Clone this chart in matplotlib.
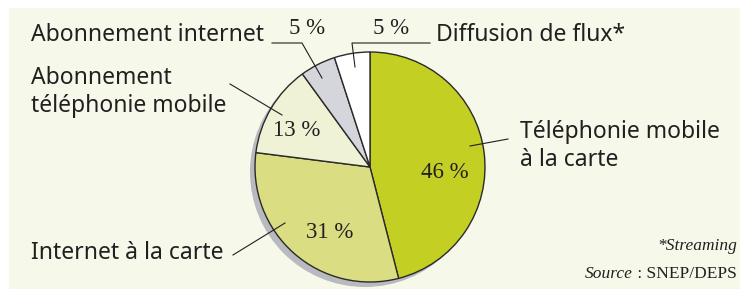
import matplotlib
matplotlib.use("Agg")
import matplotlib.pyplot as plt
from matplotlib.patches import Rectangle, Circle

# data
categories = ["Téléphonie mobile\nà la carte", "Internet à la carte",
              "Abonnement\ntéléphonie mobile", "Abonnement internet",
              "Diffusion de flux*"]
values = [46, 31, 13, 5, 5]
pct_labels = ["46 %", "31 %", "13 %", "5 %", "5 %"]
colors = ["#c4cf23", "#dadd82", "#f0f2d6", "#d5d6db", "#ffffff"]

W, H = 740, 289
fig = plt.figure(figsize=(W / 100, H / 100), dpi=100)
fig.patch.set_facecolor("white")
ax = fig.add_axes([0, 0, 1, 1])

def Y(p):
    return H - p

# panel background
ax.add_patch(Rectangle((9, 0), W - 9, H - 8, facecolor="#f6f8ea", edgecolor="none", zorder=0))

cx, cy, r = 370, Y(167), 115
# shadow
ax.add_patch(Circle((cx - 5, cy - 5), r, facecolor="#b9babf", edgecolor="none", zorder=1))

wedges, _ = ax.pie(values, colors=colors, startangle=90, counterclock=False,
                   center=(cx, cy), radius=r, frame=True,
                   wedgeprops=dict(edgecolor="#2a2a2a", linewidth=1.0, zorder=2))
for w in wedges:
    w.set_zorder(2)

ax.set_xlim(0, W)
ax.set_ylim(0, H)
ax.set_aspect("equal")
ax.axis("off")

lab_font = dict(family=["Noto Sans", "DejaVu Sans"], fontsize=16.5, color="#231f20")
pct_font = dict(family=["Liberation Serif", "DejaVu Serif"], fontsize=16.5, color="#231f20")
lc = dict(color="#231f20", lw=0.8, zorder=3)

# percentage labels inside
ax.text(445, Y(172), pct_labels[0], ha="center", va="center", **pct_font, zorder=4)
ax.text(330, Y(233), pct_labels[1], ha="center", va="center", **pct_font, zorder=4)
ax.text(297, Y(130), pct_labels[2], ha="center", va="center", **pct_font, zorder=4)
ax.text(307, Y(28), pct_labels[3], ha="center", va="center", **pct_font, zorder=4)
ax.text(391, Y(28), pct_labels[4], ha="center", va="center", **pct_font, zorder=4)

# category labels
ax.text(520, Y(146), categories[0], ha="left", va="center", linespacing=1.2, **lab_font)
ax.text(31, Y(253), categories[1], ha="left", va="center", **lab_font)
ax.text(31, Y(92), categories[2], ha="left", va="center", linespacing=1.2, **lab_font)
ax.text(31, Y(35), categories[3], ha="left", va="center", **lab_font)
ax.text(436, Y(35), categories[4], ha="left", va="center", **lab_font)

# leader lines
ax.plot([470, 508], [Y(146), Y(139)], **lc)
ax.plot([233, 285], [Y(255), Y(223)], **lc)
ax.plot([230, 282], [Y(84), Y(115)], **lc)
ax.plot([272, 302, 322], [Y(43), Y(43), Y(78)], **lc)
ax.plot([430, 352, 355], [Y(43), Y(43), Y(67)], **lc)

# footnotes
foot = dict(family=["Liberation Serif"], fontsize=12.5, color="#231f20")
ax.text(737, Y(246), "*Streaming", ha="right", va="center", style="italic", **foot)
t_src = ax.text(737, Y(274), "\u00a0: SNEP/DEPS", ha="right", va="center", **foot)
fig.canvas.draw()
bb = t_src.get_window_extent(renderer=fig.canvas.get_renderer())
x_left = ax.transData.inverted().transform((bb.x0, bb.y0))[0]
ax.text(x_left, Y(274), "Source", ha="right", va="center", style="italic", **foot)

fig.savefig("out.png", dpi=100, facecolor=fig.get_facecolor())
